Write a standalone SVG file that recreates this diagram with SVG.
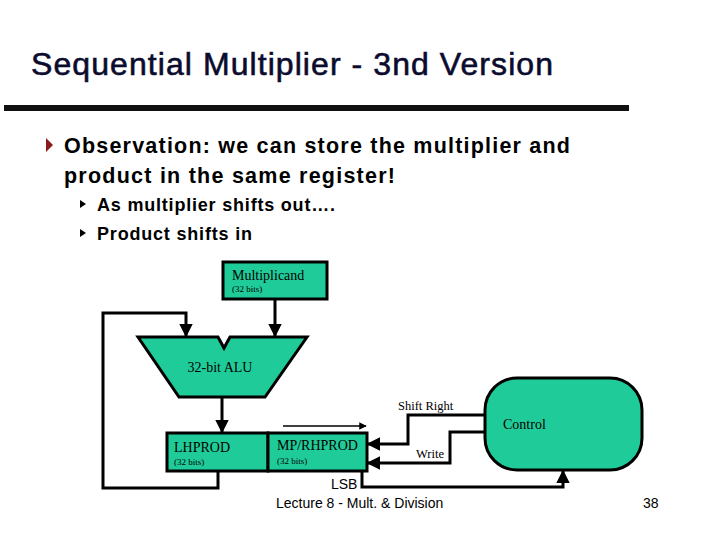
<svg xmlns="http://www.w3.org/2000/svg" width="720" height="540" viewBox="0 0 720 540">
<defs>
<style>
.sans{font-family:"Liberation Sans",Arial,sans-serif;fill:#000}
.serif{font-family:"Liberation Serif","Times New Roman",serif;fill:#000}
.box{fill:#1fcc99;stroke:#000;stroke-width:3}
.wire{fill:none;stroke:#000;stroke-width:3}
.thin{fill:none;stroke:#000;stroke-width:1.5}
</style>
<marker id="ah" viewBox="0 0 10 10" refX="9" refY="5" markerWidth="4.5" markerHeight="4.5" orient="auto" markerUnits="strokeWidth">
<path d="M0,0 L10,5 L0,10 z" fill="#000"/>
</marker>
<marker id="ahs" viewBox="0 0 10 10" refX="9" refY="5" markerWidth="5" markerHeight="5" orient="auto" markerUnits="strokeWidth">
<path d="M0,0 L10,5 L0,10 z" fill="#000"/>
</marker>
</defs>
<rect width="720" height="540" fill="#fff"/>
<g id="title">
<text class="sans" x="31" y="75" font-size="32" textLength="522" fill="#0b0b2e" style="fill:#0b0b2e;stroke:#0b0b2e;stroke-width:0.6">Sequential Multiplier - 3nd Version</text>
<rect x="4" y="105" width="625" height="6" fill="#111"/>
</g>
<g id="bullets">
<path d="M46,138 L53,145 L46,152 z" fill="#8b1a1a"/>
<text class="sans" x="64" y="153" font-size="21.5" font-weight="bold" textLength="506">Observation: we can store the multiplier and</text>
<text class="sans" x="64" y="183" font-size="21.5" font-weight="bold" textLength="331">product in the same register!</text>
<path d="M80,200 L86,204 L80,208 z" fill="#000"/>
<text class="sans" x="97" y="211" font-size="18" font-weight="bold" textLength="238">As multiplier shifts out….</text>
<path d="M80,229 L86,233 L80,237 z" fill="#000"/>
<text class="sans" x="97" y="240" font-size="18" font-weight="bold" textLength="155">Product shifts in</text>
</g>
<g id="multiplicand">
<rect class="box" x="223" y="262" width="104" height="37"/>
<text class="serif" x="232" y="280" font-size="14">Multiplicand</text>
<text class="serif" x="232" y="292" font-size="9">(32 bits)</text>
</g>
<g id="alu">
<path class="box" d="M138,337 L218,337 L224,348 L230,337 L307,337 L265,397 L179,397 Z"/>
<text class="serif" x="220" y="372" font-size="14" text-anchor="middle">32-bit ALU</text>
</g>
<g id="lhprod">
<rect class="box" x="167" y="433" width="101" height="38"/>
<text class="serif" x="174" y="452" font-size="14">LHPROD</text>
<text class="serif" x="174" y="465" font-size="9">(32 bits)</text>
</g>
<g id="rhprod">
<rect class="box" x="268" y="433" width="99" height="38"/>
<text class="serif" x="277" y="450" font-size="14">MP/RHPROD</text>
<text class="serif" x="277" y="464" font-size="9">(32 bits)</text>
</g>
<g id="control">
<rect class="box" x="485" y="378" width="157" height="92" rx="32" ry="32"/>
<text class="serif" x="503" y="429" font-size="14">Control</text>
</g>
<g id="connectors">
<path class="wire" d="M275,299 L275,336" marker-end="url(#ah)"/>
<path class="wire" d="M218,471 L218,488 L103,488 L103,313 L186,313 L186,336" marker-end="url(#ah)"/>
<path class="wire" d="M222,398 L222,432" marker-end="url(#ah)"/>
<path class="thin" d="M283,426 L366,426" marker-end="url(#ahs)"/>
<path class="wire" d="M485,415 L408,415 L408,444 L368,444" marker-end="url(#ah)"/>
<path class="wire" d="M485,432 L450,432 L450,463 L368,463" marker-end="url(#ah)"/>
<path class="wire" d="M362,471 L362,487 L563,487 L563,471" marker-end="url(#ah)"/>
<text class="serif" x="398" y="410" font-size="12.5">Shift Right</text>
<text class="serif" x="416" y="458" font-size="12.5">Write</text>
<text class="sans" x="331" y="489" font-size="14">LSB</text>
</g>
<g id="footer">
<text class="sans" x="276" y="508" font-size="14">Lecture 8 - Mult. &amp; Division</text>
<text class="sans" x="643" y="508" font-size="14">38</text>
</g>
</svg>
